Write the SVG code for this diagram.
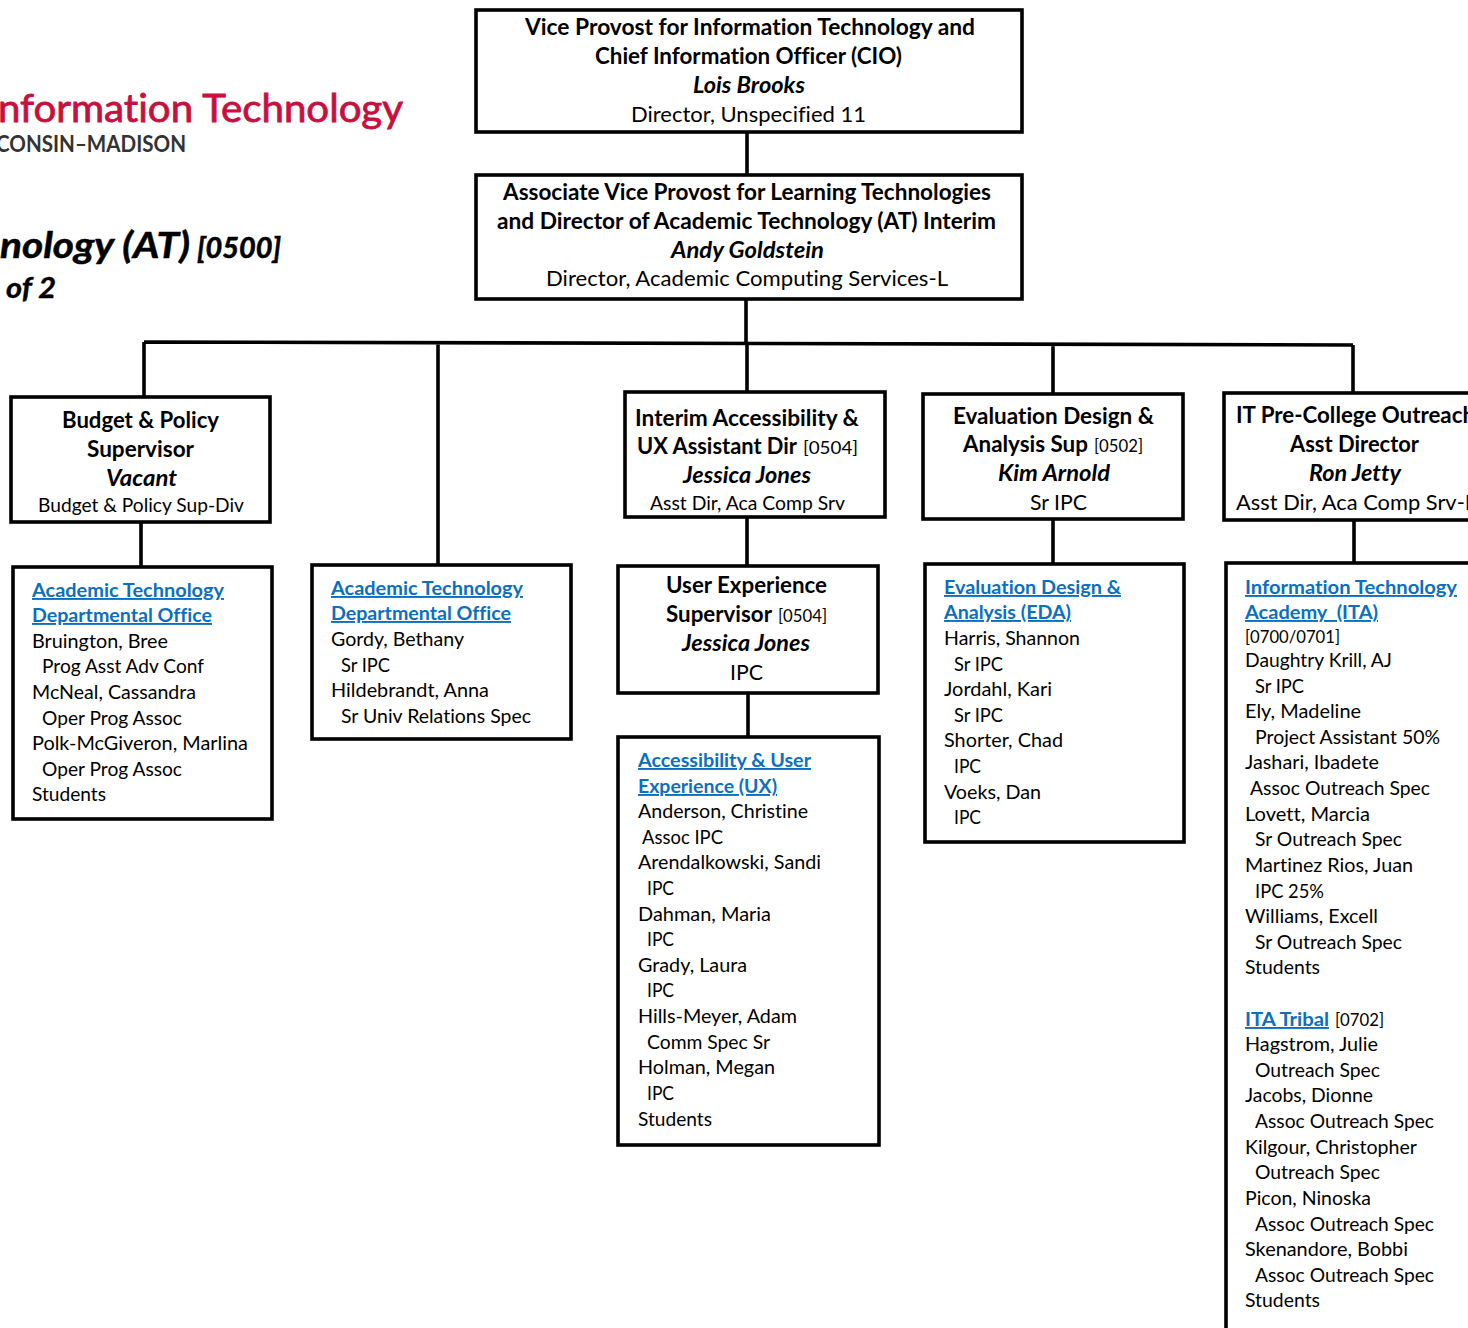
<svg xmlns="http://www.w3.org/2000/svg" width="1468" height="1328" viewBox="0 0 1468 1328">
<style>
text{font-family:Lato,"Liberation Sans",sans-serif;fill:#000;font-size:19px;font-variant-ligatures:none}
.h{font-weight:700;font-size:22.5px}
.i{font-weight:700;font-style:italic;font-size:22.5px}
.r{font-size:21.5px}
.c{font-size:17.5px}
.a{font-weight:700;fill:#0b6fc0;text-decoration:underline}
.b{fill:#fff;stroke:#000;stroke-width:3.6}
.l{fill:none;stroke:#000;stroke-width:3.6}
</style>
<rect width="1468" height="1328" fill="#fff"/>
<g id="logo">
<text x="-2" y="122" textLength="405" lengthAdjust="spacingAndGlyphs" style="font-size:38px;fill:#c8103e;stroke:#c8103e;stroke-width:.8">nformation Technology</text>
<text x="-4" y="152" textLength="190" lengthAdjust="spacingAndGlyphs" style="font-size:22px;fill:#333;font-weight:700">CONSIN–MADISON</text>
</g>
<g id="title">
<text x="0" y="258" textLength="190" lengthAdjust="spacingAndGlyphs" style="font-size:36px;font-weight:700;font-style:italic;stroke:#000;stroke-width:.5">nology (AT)</text>
<text x="197" y="258" textLength="84" lengthAdjust="spacingAndGlyphs" style="font-size:28px;font-weight:700;font-style:italic;stroke:#000;stroke-width:.6">[0500]</text>
<text x="6" y="298" textLength="50" lengthAdjust="spacingAndGlyphs" style="font-size:28px;font-weight:700;font-style:italic;stroke:#000;stroke-width:.4">of 2</text>
</g>
<g id="connectors">
<path class="l" d="M747 132V175M746 299V343M144 342L1353 345M144 342V397M438 344V565M747 343V392M1053 344V394M1353 345V394M141 522V567M747 517V566M748 693V737M1053 519V564M1354 520V563"/>
</g>
<g id="n-cio">
<rect class="b" x="476" y="10" width="546" height="122"/>
<text class="h" x="525" y="35" textLength="450" lengthAdjust="spacingAndGlyphs">Vice Provost for Information Technology and</text>
<text class="h" x="595" y="64" textLength="307" lengthAdjust="spacingAndGlyphs">Chief Information Officer (CIO)</text>
<text class="i" x="693" y="93" textLength="112" lengthAdjust="spacingAndGlyphs">Lois Brooks</text>
<text class="r" x="631" y="122" textLength="235" lengthAdjust="spacingAndGlyphs">Director, Unspecified 11</text>
</g>
<g id="n-avp">
<rect class="b" x="476" y="175" width="546" height="124"/>
<text class="h" x="503" y="200" textLength="488" lengthAdjust="spacingAndGlyphs">Associate Vice Provost for Learning Technologies</text>
<text class="h" x="497" y="229" textLength="499" lengthAdjust="spacingAndGlyphs">and Director of Academic Technology (AT) Interim</text>
<text class="i" x="671" y="258" textLength="153" lengthAdjust="spacingAndGlyphs">Andy Goldstein</text>
<text class="r" x="546" y="286" textLength="402" lengthAdjust="spacingAndGlyphs">Director, Academic Computing Services-L</text>
</g>
<g id="n-budget">
<rect class="b" x="11" y="397" width="259" height="125"/>
<text class="h" x="62" y="428" textLength="157" lengthAdjust="spacingAndGlyphs">Budget &amp; Policy</text>
<text class="h" x="87" y="457" textLength="107" lengthAdjust="spacingAndGlyphs">Supervisor</text>
<text class="i" x="106" y="486" textLength="71" lengthAdjust="spacingAndGlyphs">Vacant</text>
<text x="38" y="512" textLength="206" lengthAdjust="spacingAndGlyphs">Budget &amp; Policy Sup-Div</text>
</g>
<g id="n-dept1">
<rect class="b" x="13" y="567" width="259" height="252"/>
<text class="a" x="32" y="597" textLength="192" lengthAdjust="spacingAndGlyphs">Academic Technology</text>
<text class="a" x="32" y="622" textLength="180" lengthAdjust="spacingAndGlyphs">Departmental Office</text>
<text x="32" y="648" textLength="136" lengthAdjust="spacingAndGlyphs">Bruington, Bree</text>
<text x="42" y="673" textLength="162" lengthAdjust="spacingAndGlyphs">Prog Asst Adv Conf</text>
<text x="32" y="699" textLength="164" lengthAdjust="spacingAndGlyphs">McNeal, Cassandra</text>
<text x="42" y="725" textLength="140" lengthAdjust="spacingAndGlyphs">Oper Prog Assoc</text>
<text x="32" y="750" textLength="216" lengthAdjust="spacingAndGlyphs">Polk-McGiveron, Marlina</text>
<text x="42" y="776" textLength="140" lengthAdjust="spacingAndGlyphs">Oper Prog Assoc</text>
<text x="32" y="801" textLength="74" lengthAdjust="spacingAndGlyphs">Students</text>
</g>
<g id="n-dept2">
<rect class="b" x="312" y="565" width="259" height="174"/>
<text class="a" x="331" y="595" textLength="192" lengthAdjust="spacingAndGlyphs">Academic Technology</text>
<text class="a" x="331" y="620" textLength="180" lengthAdjust="spacingAndGlyphs">Departmental Office</text>
<text x="331" y="646" textLength="133" lengthAdjust="spacingAndGlyphs">Gordy, Bethany</text>
<text x="341" y="672" textLength="49" lengthAdjust="spacingAndGlyphs">Sr IPC</text>
<text x="331" y="697" textLength="158" lengthAdjust="spacingAndGlyphs">Hildebrandt, Anna</text>
<text x="341" y="723" textLength="190" lengthAdjust="spacingAndGlyphs">Sr Univ Relations Spec</text>
</g>
<g id="n-interim">
<rect class="b" x="625" y="392" width="260" height="125"/>
<text class="h" x="635" y="426" textLength="224" lengthAdjust="spacingAndGlyphs">Interim Accessibility &amp;</text>
<text class="h" x="637" y="454" textLength="160" lengthAdjust="spacingAndGlyphs">UX Assistant Dir</text>
<text class="c" x="803" y="454" textLength="55" lengthAdjust="spacingAndGlyphs">[0504]</text>
<text class="i" x="683" y="483" textLength="128" lengthAdjust="spacingAndGlyphs">Jessica Jones</text>
<text x="650" y="510" textLength="195" lengthAdjust="spacingAndGlyphs">Asst Dir, Aca Comp Srv</text>
</g>
<g id="n-uxsup">
<rect class="b" x="618" y="566" width="260" height="127"/>
<text class="h" x="666" y="593" textLength="161" lengthAdjust="spacingAndGlyphs">User Experience</text>
<text class="h" x="666" y="622" textLength="106" lengthAdjust="spacingAndGlyphs">Supervisor</text>
<text class="c" x="778" y="622" textLength="49" lengthAdjust="spacingAndGlyphs">[0504]</text>
<text class="i" x="682" y="651" textLength="128" lengthAdjust="spacingAndGlyphs">Jessica Jones</text>
<text class="r" x="730" y="680" textLength="33" lengthAdjust="spacingAndGlyphs">IPC</text>
</g>
<g id="n-ux">
<rect class="b" x="618" y="737" width="261" height="408"/>
<text class="a" x="638" y="767" textLength="173" lengthAdjust="spacingAndGlyphs">Accessibility &amp; User</text>
<text class="a" x="638" y="793" textLength="139" lengthAdjust="spacingAndGlyphs">Experience (UX)</text>
<text x="638" y="818" textLength="170" lengthAdjust="spacingAndGlyphs">Anderson, Christine</text>
<text x="642" y="844" textLength="81" lengthAdjust="spacingAndGlyphs">Assoc IPC</text>
<text x="638" y="869" textLength="183" lengthAdjust="spacingAndGlyphs">Arendalkowski, Sandi</text>
<text x="647" y="895" textLength="27" lengthAdjust="spacingAndGlyphs">IPC</text>
<text x="638" y="921" textLength="133" lengthAdjust="spacingAndGlyphs">Dahman, Maria</text>
<text x="647" y="946" textLength="27" lengthAdjust="spacingAndGlyphs">IPC</text>
<text x="638" y="972" textLength="109" lengthAdjust="spacingAndGlyphs">Grady, Laura</text>
<text x="647" y="997" textLength="27" lengthAdjust="spacingAndGlyphs">IPC</text>
<text x="638" y="1023" textLength="159" lengthAdjust="spacingAndGlyphs">Hills-Meyer, Adam</text>
<text x="647" y="1049" textLength="123" lengthAdjust="spacingAndGlyphs">Comm Spec Sr</text>
<text x="638" y="1074" textLength="137" lengthAdjust="spacingAndGlyphs">Holman, Megan</text>
<text x="647" y="1100" textLength="27" lengthAdjust="spacingAndGlyphs">IPC</text>
<text x="638" y="1126" textLength="74" lengthAdjust="spacingAndGlyphs">Students</text>
</g>
<g id="n-evalsup">
<rect class="b" x="923" y="394" width="260" height="125"/>
<text class="h" x="953" y="424" textLength="201" lengthAdjust="spacingAndGlyphs">Evaluation Design &amp;</text>
<text class="h" x="963" y="452" textLength="125" lengthAdjust="spacingAndGlyphs">Analysis Sup</text>
<text class="c" x="1094" y="452" textLength="49" lengthAdjust="spacingAndGlyphs">[0502]</text>
<text class="i" x="998" y="481" textLength="112" lengthAdjust="spacingAndGlyphs">Kim Arnold</text>
<text class="r" x="1030" y="510" textLength="57" lengthAdjust="spacingAndGlyphs">Sr IPC</text>
</g>
<g id="n-eda">
<rect class="b" x="925" y="564" width="259" height="278"/>
<text class="a" x="944" y="594" textLength="177" lengthAdjust="spacingAndGlyphs">Evaluation Design &amp;</text>
<text class="a" x="944" y="619" textLength="127" lengthAdjust="spacingAndGlyphs">Analysis (EDA)</text>
<text x="944" y="645" textLength="136" lengthAdjust="spacingAndGlyphs">Harris, Shannon</text>
<text x="954" y="671" textLength="49" lengthAdjust="spacingAndGlyphs">Sr IPC</text>
<text x="944" y="696" textLength="108" lengthAdjust="spacingAndGlyphs">Jordahl, Kari</text>
<text x="954" y="722" textLength="49" lengthAdjust="spacingAndGlyphs">Sr IPC</text>
<text x="944" y="747" textLength="119" lengthAdjust="spacingAndGlyphs">Shorter, Chad</text>
<text x="954" y="773" textLength="27" lengthAdjust="spacingAndGlyphs">IPC</text>
<text x="944" y="799" textLength="97" lengthAdjust="spacingAndGlyphs">Voeks, Dan</text>
<text x="954" y="824" textLength="27" lengthAdjust="spacingAndGlyphs">IPC</text>
</g>
<g id="n-itsup">
<rect class="b" x="1224" y="393" width="270" height="127"/>
<text class="h" x="1236" y="423" textLength="239" lengthAdjust="spacingAndGlyphs">IT Pre-College Outreach</text>
<text class="h" x="1290" y="452" textLength="129" lengthAdjust="spacingAndGlyphs">Asst Director</text>
<text class="i" x="1309" y="481" textLength="92" lengthAdjust="spacingAndGlyphs">Ron Jetty</text>
<text class="r" x="1236" y="510" textLength="240" lengthAdjust="spacingAndGlyphs">Asst Dir, Aca Comp Srv-L</text>
</g>
<g id="n-ita">
<rect class="b" x="1226" y="563" width="270" height="790"/>
<text class="a" x="1245" y="594" textLength="212" lengthAdjust="spacingAndGlyphs">Information Technology</text>
<text class="a" x="1245" y="619" textLength="133" lengthAdjust="spacingAndGlyphs" xml:space="preserve">Academy  (ITA)</text>
<text class="c" x="1245" y="643" textLength="95" lengthAdjust="spacingAndGlyphs">[0700/0701]</text>
<text x="1245" y="667" textLength="147" lengthAdjust="spacingAndGlyphs">Daughtry Krill, AJ</text>
<text x="1255" y="693" textLength="49" lengthAdjust="spacingAndGlyphs">Sr IPC</text>
<text x="1245" y="718" textLength="116" lengthAdjust="spacingAndGlyphs">Ely, Madeline</text>
<text x="1255" y="744" textLength="185" lengthAdjust="spacingAndGlyphs">Project Assistant 50%</text>
<text x="1245" y="769" textLength="134" lengthAdjust="spacingAndGlyphs">Jashari, Ibadete</text>
<text x="1250" y="795" textLength="180" lengthAdjust="spacingAndGlyphs">Assoc Outreach Spec</text>
<text x="1245" y="821" textLength="125" lengthAdjust="spacingAndGlyphs">Lovett, Marcia</text>
<text x="1255" y="846" textLength="147" lengthAdjust="spacingAndGlyphs">Sr Outreach Spec</text>
<text x="1245" y="872" textLength="168" lengthAdjust="spacingAndGlyphs">Martinez Rios, Juan</text>
<text x="1255" y="898" textLength="69" lengthAdjust="spacingAndGlyphs">IPC 25%</text>
<text x="1245" y="923" textLength="133" lengthAdjust="spacingAndGlyphs">Williams, Excell</text>
<text x="1255" y="949" textLength="147" lengthAdjust="spacingAndGlyphs">Sr Outreach Spec</text>
<text x="1245" y="974" textLength="75" lengthAdjust="spacingAndGlyphs">Students</text>
<text class="a" x="1245" y="1026" textLength="84" lengthAdjust="spacingAndGlyphs">ITA Tribal</text>
<text class="c" x="1335" y="1026" textLength="49" lengthAdjust="spacingAndGlyphs">[0702]</text>
<text x="1245" y="1051" textLength="133" lengthAdjust="spacingAndGlyphs">Hagstrom, Julie</text>
<text x="1255" y="1077" textLength="125" lengthAdjust="spacingAndGlyphs">Outreach Spec</text>
<text x="1245" y="1102" textLength="128" lengthAdjust="spacingAndGlyphs">Jacobs, Dionne</text>
<text x="1255" y="1128" textLength="179" lengthAdjust="spacingAndGlyphs">Assoc Outreach Spec</text>
<text x="1245" y="1154" textLength="172" lengthAdjust="spacingAndGlyphs">Kilgour, Christopher</text>
<text x="1255" y="1179" textLength="125" lengthAdjust="spacingAndGlyphs">Outreach Spec</text>
<text x="1245" y="1205" textLength="126" lengthAdjust="spacingAndGlyphs">Picon, Ninoska</text>
<text x="1255" y="1231" textLength="179" lengthAdjust="spacingAndGlyphs">Assoc Outreach Spec</text>
<text x="1245" y="1256" textLength="163" lengthAdjust="spacingAndGlyphs">Skenandore, Bobbi</text>
<text x="1255" y="1282" textLength="179" lengthAdjust="spacingAndGlyphs">Assoc Outreach Spec</text>
<text x="1245" y="1307" textLength="75" lengthAdjust="spacingAndGlyphs">Students</text>
</g>
</svg>
